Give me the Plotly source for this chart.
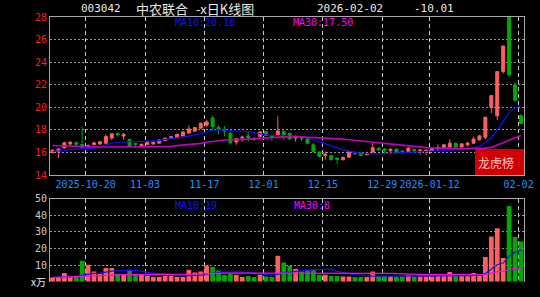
import plotly.graph_objects as go
import pandas as pd

W, H = 540, 297

# ---------------- data ----------------
dates = [d.strftime("%Y-%m-%d") for d in pd.bdate_range("2025-10-10", "2026-02-02")
         if d.strftime("%Y-%m-%d") not in ("2026-01-01", "2026-01-02")]

open_ = [15.98, 16.05, 16.40, 16.75, 16.85, 16.70, 16.50, 16.70, 16.75, 16.82,
         17.27, 17.70, 17.45, 17.15, 16.80, 16.55, 16.72, 16.75, 16.82, 17.05,
         17.28, 17.30, 17.45, 17.72, 17.88, 18.15, 18.42, 19.05, 18.20, 18.05,
         17.70, 16.92, 17.28, 17.45, 17.25, 17.42, 17.85, 17.45, 17.56, 17.85,
         17.70, 17.27, 17.35, 17.20, 16.67, 16.03, 15.73, 15.73, 15.50, 15.35,
         15.58, 16.02, 15.94, 15.80, 16.03, 16.38, 16.30, 16.15, 16.30, 16.12,
         16.08, 16.25, 16.15, 16.12, 16.17, 16.35, 16.38, 16.47, 16.82, 16.47,
         16.67, 16.82, 17.12, 17.35, 19.97, 19.24, 23.16, 28.00, 21.98, 19.24]
high = [16.30, 16.35, 16.95, 17.00, 17.02, 18.25, 16.70, 16.95, 17.00, 17.60,
        17.70, 17.75, 17.72, 17.20, 16.85, 16.78, 16.97, 16.98, 17.15, 17.30,
        17.45, 17.65, 17.88, 18.38, 18.25, 18.65, 18.90, 19.25, 18.45, 18.35,
        17.85, 17.30, 17.50, 17.85, 17.35, 17.88, 17.90, 17.55, 19.20, 18.00,
        17.75, 17.50, 17.45, 17.30, 16.85, 16.10, 16.08, 15.75, 15.55, 15.65,
        16.15, 16.08, 16.00, 16.00, 16.82, 16.45, 16.38, 16.35, 16.35, 16.20,
        16.48, 16.30, 16.30, 16.28, 16.42, 16.72, 16.72, 17.18, 16.85, 16.80,
        16.95, 17.40, 17.55, 19.12, 21.04, 23.16, 25.46, 28.00, 22.20, 19.42]
low = [15.90, 15.50, 16.35, 16.55, 16.55, 16.40, 16.45, 16.60, 16.65, 16.70,
       17.10, 17.45, 17.10, 16.50, 16.40, 16.50, 16.65, 16.70, 16.78, 17.00,
       17.22, 17.25, 17.42, 17.65, 17.82, 18.10, 18.25, 18.00, 17.60, 17.45,
       16.68, 16.68, 16.95, 16.95, 17.00, 17.35, 17.45, 17.00, 17.50, 17.10,
       17.15, 16.95, 17.00, 16.75, 16.05, 15.60, 15.35, 15.30, 14.95, 15.30,
       15.50, 15.75, 15.70, 15.75, 15.98, 16.15, 15.95, 15.90, 15.88, 15.85,
       16.05, 16.00, 15.80, 15.75, 16.12, 16.10, 16.35, 16.42, 16.42, 16.45,
       16.50, 16.78, 17.05, 17.18, 19.48, 18.88, 23.00, 22.70, 20.50, 18.50]
close = [16.20, 16.30, 16.85, 16.90, 16.72, 16.45, 16.60, 16.85, 16.95, 17.40,
         17.65, 17.55, 17.60, 16.55, 16.70, 16.72, 16.92, 16.90, 17.10, 17.27,
         17.38, 17.60, 17.82, 18.08, 18.20, 18.58, 18.70, 18.30, 18.05, 17.88,
         16.85, 17.22, 17.35, 17.30, 17.15, 17.82, 17.50, 17.35, 17.90, 17.58,
         17.20, 17.40, 17.25, 16.82, 16.08, 15.64, 15.85, 15.35, 15.38, 15.55,
         16.08, 15.92, 15.75, 15.94, 16.42, 16.22, 16.15, 16.28, 16.00, 16.05,
         16.38, 16.18, 16.20, 16.18, 16.38, 16.42, 16.67, 16.82, 16.47, 16.76,
         16.82, 17.18, 17.47, 19.12, 21.04, 23.16, 25.43, 22.87, 20.62, 18.56]

ma10 = [16.07, 16.10, 16.18, 16.25, 16.30, 16.32, 16.33, 16.35, 16.50, 16.68,
        16.83, 16.90, 16.92, 16.93, 16.93, 16.93, 16.95, 17.00, 17.05, 17.15,
        17.22, 17.28, 17.32, 17.45, 17.55, 17.65, 17.85, 17.98, 18.00, 17.95,
        17.92, 17.90, 17.90, 17.85, 17.75, 17.65, 17.55, 17.50, 17.48, 17.47,
        17.46, 17.45, 17.40, 17.28, 17.10, 16.95, 16.80, 16.60, 16.42, 16.25,
        16.12, 16.00, 15.95, 15.90, 15.88, 15.88, 15.90, 15.93, 15.97, 16.00,
        16.03, 16.06, 16.08, 16.10, 16.12, 16.15, 16.18, 16.20, 16.23, 16.27,
        16.30, 16.40, 16.55, 16.85, 17.30, 17.95, 18.80, 19.55, 19.95, 20.18]
ma30 = [16.62, 16.60, 16.57, 16.53, 16.50, 16.48, 16.48, 16.48, 16.48, 16.48,
        16.48, 16.48, 16.48, 16.48, 16.48, 16.49, 16.50, 16.50, 16.50, 16.52,
        16.54, 16.60, 16.65, 16.68, 16.72, 16.80, 16.90, 16.98, 17.05, 17.10,
        17.12, 17.12, 17.13, 17.18, 17.22, 17.26, 17.30, 17.33, 17.36, 17.38,
        17.40, 17.40, 17.38, 17.33, 17.30, 17.28, 17.26, 17.24, 17.22, 17.18,
        17.12, 17.08, 17.04, 17.00, 16.92, 16.86, 16.80, 16.74, 16.68, 16.62,
        16.57, 16.52, 16.47, 16.43, 16.40, 16.38, 16.37, 16.36, 16.35, 16.35,
        16.35, 16.35, 16.36, 16.38, 16.45, 16.62, 16.85, 17.08, 17.32, 17.50]

volume = [2.5, 3.0, 5.2, 2.8, 2.8, 12.6, 10.2, 6.2, 4.8, 8.2,
          8.2, 4.8, 4.2, 7.2, 4.2, 4.2, 3.5, 2.8, 2.8, 3.5,
          3.5, 2.8, 2.8, 7.2, 5.6, 6.2, 9.6, 8.8, 6.8, 4.2,
          4.8, 4.2, 2.8, 3.5, 2.8, 4.2, 3.2, 2.8, 15.6, 11.6,
          9.6, 7.8, 6.2, 7.2, 7.2, 4.2, 4.2, 3.5, 3.5, 3.2,
          3.2, 2.8, 2.8, 2.8, 6.2, 3.5, 3.5, 3.2, 3.2, 3.2,
          4.2, 3.2, 3.2, 3.2, 3.2, 3.5, 3.5, 5.8, 3.5, 3.5,
          3.5, 5.2, 3.5, 14.8, 27.1, 32.1, 14.2, 45.5, 26.8, 24.1]
vol_ma10 = [2.6, 2.7, 2.9, 3.0, 3.1, 4.0, 4.7, 5.0, 5.1, 5.8,
            6.3, 6.5, 6.6, 6.8, 6.9, 6.2, 5.5, 5.1, 4.9, 4.5,
            4.1, 3.9, 3.7, 3.7, 3.8, 4.0, 4.6, 5.2, 5.6, 5.7,
            5.8, 5.9, 5.9, 5.6, 5.3, 5.1, 4.4, 3.8, 4.6, 5.3,
            5.8, 6.2, 6.6, 7.0, 7.4, 7.4, 7.5, 7.4, 6.2, 5.4,
            4.7, 4.2, 3.9, 3.5, 3.4, 3.4, 3.4, 3.4, 3.4, 3.4,
            3.5, 3.5, 3.5, 3.5, 3.2, 3.3, 3.3, 3.6, 3.6, 3.6,
            3.6, 3.8, 3.8, 4.9, 7.3, 10.2, 11.2, 15.4, 17.7, 19.0]
vol_ma30 = [2.4, 2.5, 2.6, 2.7, 2.8, 3.1, 3.3, 3.5, 3.7, 3.9,
            4.0, 4.1, 4.2, 4.2, 4.2, 4.2, 4.2, 4.2, 4.2, 4.2,
            4.2, 4.2, 4.2, 4.4, 4.5, 4.7, 4.9, 5.0, 5.1, 5.1,
            5.2, 5.2, 5.2, 5.2, 5.2, 5.2, 5.2, 5.2, 5.3, 5.3,
            5.3, 5.3, 5.3, 5.3, 5.3, 5.2, 5.2, 5.2, 5.2, 5.2,
            5.2, 5.2, 5.2, 5.2, 5.2, 5.2, 5.2, 5.0, 4.8, 4.6,
            4.4, 4.3, 4.2, 4.2, 4.2, 4.2, 4.2, 4.2, 4.2, 4.1,
            4.1, 4.1, 4.1, 4.4, 5.1, 6.0, 6.3, 7.4, 8.0, 8.5]

tick_dates = ["2025-10-20", "2025-11-03", "2025-11-17", "2025-12-01",
              "2025-12-15", "2025-12-29", "2026-01-12", "2026-02-02"]
tick_text = ["2025-10-20", "11-03", "11-17", "12-01", "12-15", "12-29", "2026-01-12", "02-02"]
price_ticks = [14, 16, 18, 20, 22, 24, 26, 28]
vol_ticks = [10, 20, 30, 40, 50]
vol_tick_text = ["10", "20", "30", "40", "50"]

# ---------------- styling ----------------
UP = "#ff5f5f"
DN = "#00a800"
BLUE = "#1010ff"
MAG = "#c000c0"
MONO = "DejaVu Sans Mono"
CJK = "Noto Sans CJK SC"

idx = list(range(len(dates)))
tickvals = [dates.index(d) - 0.4 for d in tick_dates]
xr = [-0.42, 79.51]


def px(x, y):
    return x / W, 1 - y / H


fig = go.Figure()
fig.add_trace(go.Candlestick(
    x=idx, open=open_, high=high, low=low, close=close,
    increasing=dict(line=dict(color=UP, width=1), fillcolor=UP),
    decreasing=dict(line=dict(color=DN, width=1), fillcolor=DN),
    whiskerwidth=0, xaxis="x", yaxis="y", hoverinfo="skip"))
fig.add_trace(go.Scatter(x=idx, y=ma10, mode="lines", line=dict(color=BLUE, width=1.2),
                         xaxis="x", yaxis="y"))
fig.add_trace(go.Scatter(x=idx, y=ma30, mode="lines", line=dict(color=MAG, width=1.6),
                         xaxis="x", yaxis="y"))

vcolors = [UP if c >= o else DN for o, c in zip(open_, close)]
fig.add_trace(go.Bar(x=idx, y=volume, marker=dict(color=vcolors, line=dict(width=0)),
                     width=0.8, xaxis="x2", yaxis="y2"))
fig.add_trace(go.Scatter(x=idx, y=vol_ma10, mode="lines", line=dict(color=BLUE, width=1.2),
                         xaxis="x2", yaxis="y2"))
fig.add_trace(go.Scatter(x=idx, y=vol_ma30, mode="lines", line=dict(color="#ff00ff", width=1.2),
                         xaxis="x2", yaxis="y2"))

xd = [50 / W, 524 / W]
common_x = dict(range=xr, tickvals=tickvals, showgrid=True, gridcolor="#c8c8c8",
                griddash="4px,3px", gridwidth=1, zeroline=False, ticks="", fixedrange=True,
                automargin=False, tickangle=0)

fig.update_layout(
    width=W, height=H, margin=dict(l=0, r=0, t=0, b=0, autoexpand=False),
    paper_bgcolor="black", plot_bgcolor="black", showlegend=False,
    boxgap=0.28,
    xaxis=dict(domain=xd, anchor="y", ticktext=tick_text,
               tickfont=dict(color="#1e90ff", size=10, family=MONO),
               showline=True, linecolor="#a8a8a8", mirror=True,
               rangeslider=dict(visible=False), **common_x),
    yaxis=dict(domain=[1 - 175 / H, 1 - 17 / H], range=[14, 28], tickvals=price_ticks,
               tickfont=dict(color="#ff1a1a", size=10, family=MONO),
               showgrid=True, gridcolor="#9a9a9a", griddash="2px,2px", gridwidth=1,
               showline=True, linecolor="#a8a8a8", mirror=True, zeroline=False,
               ticks="", fixedrange=True, automargin=False),
    xaxis2=dict(domain=xd, anchor="y2", showticklabels=False, side="top",
                showline=True, linecolor="#a8a8a8", **common_x),
    yaxis2=dict(domain=[1 - 281.7 / H, 1 - 198.5 / H], range=[0, 50], tickvals=vol_ticks,
                ticktext=vol_tick_text,
                tickfont=dict(color="#c8c8c8", size=10, family=MONO),
                showgrid=True, gridcolor="#9a9a9a", griddash="2px,2px", gridwidth=1,
                showline=True, linecolor="#a8a8a8", mirror=True, zeroline=False,
                ticks="", fixedrange=True, automargin=False),
)

# 龙虎榜 box
x0, y0 = px(475, 175)
x1, y1 = px(524, 149)
fig.add_shape(type="rect", xref="paper", yref="paper", x0=x0, y0=y0, x1=x1, y1=y1,
              fillcolor="#d00000", line=dict(width=0), layer="above")


def label(text, x, y, color, size, family, anchor="left"):
    ax, ay = px(x, y)
    fig.add_annotation(text=text, x=ax, y=ay, xref="paper", yref="paper",
                       xanchor=anchor, yanchor="middle", showarrow=False,
                       font=dict(color=color, size=size, family=family))


label("003042", 79, 9, "#e8e8e8", 11, MONO)
label("中农联合", 134, 9, "#e8e8e8", 13, CJK)
label("-x日K线图", 194, 9, "#e8e8e8", 13, CJK)
label("2026-02-02", 315, 9, "#e8e8e8", 11, MONO)
label("-10.01", 412, 9, "#e8e8e8", 11, MONO)
label("MA10:20.18", 173, 23, BLUE, 10, MONO)
label("MA30:17.50", 291, 23, "#ff00ff", 10, MONO)
label("MA10:19", 173, 205, BLUE, 10, MONO)
label("MA30:8", 292, 205, "#ff00ff", 10, MONO)
label("龙虎榜", 476, 162.5, "#ffc8c8", 12, CJK)
label("x万", 29, 281, "#f0f0f0", 10, CJK)

fig.write_html("out.html")
